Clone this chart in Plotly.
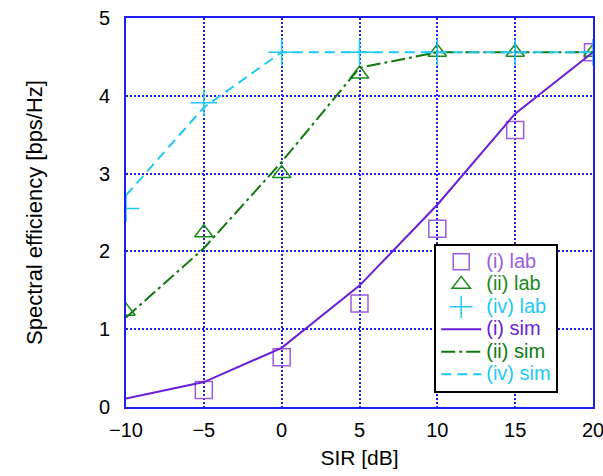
import plotly.graph_objects as go

sir = [-10, -5, 0, 5, 10, 15, 20]

lab_i_x = [-5, 0, 5, 10, 15, 20]
lab_i = [0.22, 0.64, 1.33, 2.29, 3.56, 4.56]
lab_ii = [1.23, 2.24, 3.0, 4.28, 4.56, 4.56, 4.56]
lab_iv = [2.55, 3.91, 4.56, 4.56, 4.56, 4.56, 4.56]

sim_i = [0.11, 0.32, 0.76, 1.56, 2.6, 3.77, 4.56]
sim_ii = [1.15, 2.04, 3.15, 4.36, 4.56, 4.56, 4.56]
sim_iv = [2.72, 3.85, 4.56, 4.56, 4.56, 4.56, 4.56]

PURPLE_L = "#9a5ce0"
PURPLE = "#6a1fd6"
GREEN = "#1a8a1a"
GREEN_D = "#0e7a0e"
CYAN = "#1ec8f5"
BLUE = "#1f1ff0"
FONT = "Liberation Sans"

names_colors = {"(i) lab": PURPLE_L, "(ii) lab": GREEN, "(iv) lab": CYAN,
                "(i) sim": PURPLE, "(ii) sim": GREEN_D, "(iv) sim": CYAN}


def lbl(n):
    return f'<span style="color:{names_colors[n]};font-size:20px">{n}</span>'


fig = go.Figure()
fig.add_trace(go.Scatter(x=lab_i_x, y=lab_i, mode="markers", name=lbl("(i) lab"),
                         marker=dict(symbol="square-open", size=17, color=PURPLE_L, line=dict(width=1.5))))
fig.add_trace(go.Scatter(x=sir, y=lab_ii, mode="markers", name=lbl("(ii) lab"),
                         marker=dict(symbol="triangle-up-open", size=16, color=GREEN, line=dict(width=1.5))))
fig.add_trace(go.Scatter(x=sir, y=lab_iv, mode="markers", name=lbl("(iv) lab"),
                         marker=dict(symbol="cross-thin-open", size=19, color=CYAN, line=dict(width=1.5, color=CYAN))))
fig.add_trace(go.Scatter(x=sir, y=sim_i, mode="lines", name=lbl("(i) sim"),
                         line=dict(color=PURPLE, width=2)))
fig.add_trace(go.Scatter(x=sir, y=sim_ii, mode="lines", name=lbl("(ii) sim"),
                         line=dict(color=GREEN_D, width=2, dash="14px,4px,3px,4px")))
fig.add_trace(go.Scatter(x=sir, y=sim_iv, mode="lines", name=lbl("(iv) sim"),
                         line=dict(color=CYAN, width=2, dash="10px,6px")))

fig.update_layout(
    width=603, height=476,
    margin=dict(l=126, r=10, t=18, b=69),
    paper_bgcolor="white", plot_bgcolor="white",
    font=dict(family=FONT, color="black"),
    showlegend=True,
    legend=dict(x=0.66, y=0.42, xanchor="left", yanchor="top",
                bgcolor="white", bordercolor="black", borderwidth=2,
                font=dict(size=15, family=FONT), tracegroupgap=0,
                itemwidth=40),
)
fig.update_xaxes(range=[-10, 20], tickvals=[-10, -5, 0, 5, 10, 15, 20],
                 showgrid=True, gridcolor=BLUE, griddash="2px,2px", gridwidth=1.5,
                 showline=True, linecolor=BLUE, linewidth=2, mirror=True,
                 zeroline=False, ticks="", tickfont=dict(size=20, family=FONT),
                 ticklabelstandoff=4, automargin=False, ticklabeloverflow="allow",
                 title=dict(text="SIR [dB]", font=dict(size=21, family=FONT), standoff=10))
fig.update_yaxes(range=[0, 5], tickvals=[0, 1, 2, 3, 4, 5],
                 showgrid=True, gridcolor=BLUE, griddash="2px,2px", gridwidth=1.5,
                 showline=True, linecolor=BLUE, linewidth=2, mirror=True,
                 zeroline=False, ticks="", tickfont=dict(size=20, family=FONT),
                 ticklabelstandoff=10, automargin=False, ticklabeloverflow="allow",
                 title=dict(text="Spectral efficiency [bps/Hz]", font=dict(size=22, family=FONT), standoff=50))

fig.write_html("out.html")
